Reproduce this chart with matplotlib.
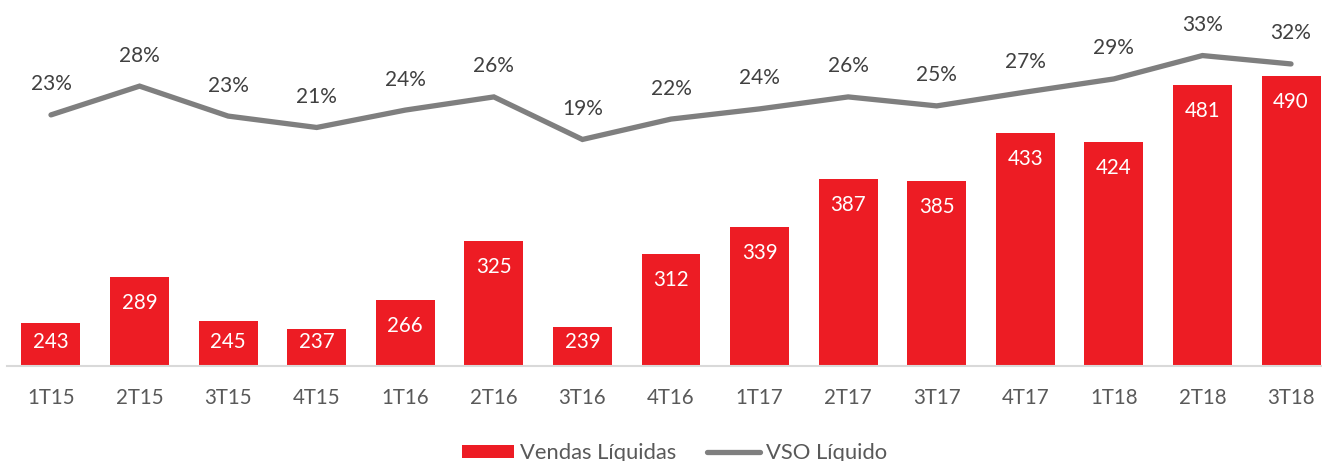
import numpy as np
import matplotlib
matplotlib.use("Agg")
import matplotlib.pyplot as plt
from matplotlib.lines import Line2D
from matplotlib.patches import Patch

# Données
trimestres = ["1T15", "2T15", "3T15", "4T15", "1T16", "2T16", "3T16", "4T16",
              "1T17", "2T17", "3T17", "4T17", "1T18", "2T18", "3T18"]
vendas = [243, 289, 245, 237, 266, 325, 239, 312, 339, 387, 385, 433, 424, 481, 490]
vso = [23.1, 27.9, 22.9, 21.0, 23.9, 26.1, 19.0, 22.4, 24.1, 26.1, 24.6, 26.9, 29.1, 33.0, 31.6]

rouge = "#ED1C24"
gris = "#7F7F7F"
texte = "#404040"

plt.rcParams["font.family"] = ["Lato", "DejaVu Sans"]

fig = plt.figure(figsize=(13.22, 4.61), dpi=100)
W, H = 1322, 461
# axes placé en pixels (bas de l'axe à y=366, haut à y=16)
ax = fig.add_axes([6.7 / W, (H - 366) / H, 1328.6 / W, 350 / H])
x = np.arange(len(trimestres))

ax.bar(x, vendas, width=0.666, color=rouge, zorder=2)
ax.set_ylim(200, 550)
ax.set_xlim(-0.5, len(trimestres) - 0.5)

for xi, v in zip(x, vendas):
    ax.text(xi, max(v - 26, 224), f"{v}", ha="center", va="center",
            color="white", fontsize=14.8, zorder=3)

for s in ["top", "right", "left"]:
    ax.spines[s].set_visible(False)
ax.spines["bottom"].set_color("#D9D9D9")
ax.spines["bottom"].set_linewidth(1.5)
ax.set_yticks([])
ax.set_xticks(x)
ax.set_xticklabels(trimestres, fontsize=14.8, color="#595959")
ax.tick_params(axis="x", length=0, pad=16)

# Axe secondaire pour le VSO
ax2 = ax.twinx()
ax2.plot(x, vso, color=gris, linewidth=3.8, solid_capstyle="round",
         solid_joinstyle="miter", zorder=4)
ax2.set_ylim(-18.8, 39.6)
ax2.set_yticks([])
for s in ax2.spines.values():
    s.set_visible(False)
for xi, v in zip(x, vso):
    ax2.annotate(f"{v:.0f}%", (xi, v), xytext=(0, 22), textcoords="offset points",
                 ha="center", va="center", fontsize=15, color=texte)

handles = [Patch(facecolor=rouge, edgecolor="none"),
           Line2D([0], [0], color=gris, linewidth=3.8, solid_capstyle="round")]
fig.legend(handles, ["Vendas Líquidas", "VSO Líquido"], loc="center",
           bbox_to_anchor=(674.5 / W, (H - 453) / H), ncol=2, frameon=False,
           fontsize=15.8, handlelength=2.4, handleheight=0.55, handletextpad=0.28,
           columnspacing=1.4, labelcolor="#595959")

fig.savefig("out.png", dpi=100)
